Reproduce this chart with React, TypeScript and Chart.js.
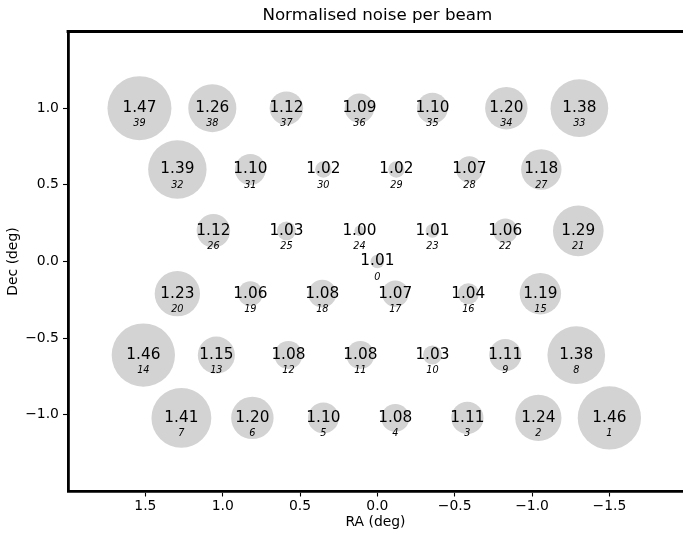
import React, { useEffect, useRef } from "react";
import { Chart, registerables } from "chart.js";

Chart.register(...registerables);

// Beam numbers, positions (deg) and normalised noise
const beams = [
  0, 1, 2, 3, 4, 5, 6, 7, 8, 9, 10, 11, 12, 13, 14, 15, 16, 17, 18, 19,
  20, 21, 22, 23, 24, 25, 26, 27, 28, 29, 30, 31, 32, 33, 34, 35, 36, 37, 38, 39,
];
const ra = [
  0.0,
  -1.5, -1.041, -0.582, -0.116, 0.349, 0.808, 1.267,
  -1.286, -0.827, -0.356, 0.11, 0.575, 1.041, 1.513,
  -1.054, -0.588, -0.116, 0.356, 0.821, 1.293,
  -1.299, -0.827, -0.356, 0.116, 0.588, 1.06,
  -1.06, -0.595, -0.123, 0.349, 0.821, 1.293,
  -1.306, -0.834, -0.356, 0.116, 0.588, 1.067, 1.538,
];
const dec = [
  0.0,
  -1.02, -1.02, -1.02, -1.02, -1.02, -1.02, -1.02,
  -0.61, -0.61, -0.61, -0.61, -0.61, -0.61, -0.61,
  -0.21, -0.21, -0.21, -0.21, -0.21, -0.21,
  0.2, 0.2, 0.2, 0.2, 0.2, 0.2,
  0.6, 0.6, 0.6, 0.6, 0.6, 0.6,
  1.0, 1.0, 1.0, 1.0, 1.0, 1.0, 1.0,
];
const noise = [
  1.01,
  1.46, 1.24, 1.11, 1.08, 1.1, 1.2, 1.41,
  1.38, 1.11, 1.03, 1.08, 1.08, 1.15, 1.46,
  1.19, 1.04, 1.07, 1.08, 1.06, 1.23,
  1.29, 1.06, 1.01, 1.0, 1.03, 1.12,
  1.18, 1.07, 1.02, 1.02, 1.1, 1.39,
  1.38, 1.2, 1.1, 1.09, 1.12, 1.26, 1.47,
];
const xTicks = [1.5, 1.0, 0.5, 0.0, -0.5, -1.0, -1.5];
const yTicks = [-1.0, -0.5, 0.0, 0.5, 1.0];

const TITLE = "Normalised noise per beam";
const X_LABEL = "RA (deg)";
const Y_LABEL = "Dec (deg)";
const FONT = "'DejaVu Sans', sans-serif";

const fmt = (v: number) => (v < 0 ? "\u2212" : "") + Math.abs(v).toFixed(1);

const overlay = {
  id: "overlay",
  afterDatasetsDraw(chart: any) {
    const ctx = chart.ctx;
    const meta = chart.getDatasetMeta(0);
    ctx.save();
    ctx.fillStyle = "#000";
    ctx.textAlign = "center";
    ctx.textBaseline = "middle";
    meta.data.forEach((el: any, i: number) => {
      ctx.font = `15.3px ${FONT}`;
      ctx.fillText(noise[i].toFixed(2), el.x, el.y);
      ctx.font = `italic 9.7px ${FONT}`;
      ctx.fillText(String(beams[i]), el.x, el.y + 15.5);
    });
    ctx.restore();
  },
  afterDraw(chart: any) {
    const { ctx, chartArea } = chart;
    ctx.save();
    ctx.strokeStyle = "#000";
    ctx.lineWidth = 2.8;
    ctx.beginPath();
    ctx.moveTo(chartArea.left - 1.4, chartArea.top);
    ctx.lineTo(chartArea.right, chartArea.top);
    ctx.stroke();
    ctx.fillStyle = "#000";
    ctx.font = `16.7px ${FONT}`;
    ctx.textAlign = "center";
    ctx.textBaseline = "middle";
    ctx.fillText(TITLE, chart.scales.x.getPixelForValue(0), 16);
    ctx.restore();
  },
};

export default function App() {
  const ref = useRef<HTMLCanvasElement | null>(null);
  useEffect(() => {
    if (!ref.current) return;
    const chart = new Chart(ref.current, {
      type: "bubble",
      data: {
        datasets: [
          {
            data: ra.map((x, i) => ({ x, y: dec[i] })),
            backgroundColor: "#d3d3d3",
            borderWidth: 0,
            radius: (c: any) => Math.sqrt(2123 * (noise[c.dataIndex] - 0.988)),
          } as any,
        ],
      },
      options: {
        responsive: false,
        animation: false,
        events: [],
        devicePixelRatio: 1,
        layout: { autoPadding: false, padding: { top: 31.5, left: 0, right: 0, bottom: 0 } },
        plugins: { legend: { display: false }, tooltip: { enabled: false } },
        scales: {
          x: {
            type: "linear",
            reverse: true,
            min: -1.976,
            max: 2.0,
            afterBuildTicks: (s: any) => {
              s.ticks = xTicks.map((v) => ({ value: v }));
            },
            afterFit: (s: any) => {
              s.height = 41.5;
            },
            ticks: {
              callback: (v: any) => fmt(Number(v)),
              font: { family: FONT, size: 13.9 },
              color: "#000",
              padding: 1.8,
              maxRotation: 0,
              autoSkip: false,
            },
            grid: {
              display: true,
              drawOnChartArea: false,
              drawTicks: true,
              tickLength: 5,
              tickWidth: 1.1,
              tickColor: "#000",
              color: "#000",
            },
            border: { display: true, color: "#000", width: 2.8 },
            title: {
              display: true,
              text: X_LABEL,
              color: "#000",
              font: { family: FONT, size: 13.9 },
              padding: { top: 0, bottom: 2.7 },
            },
          },
          y: {
            type: "linear",
            min: -1.5,
            max: 1.5,
            afterBuildTicks: (s: any) => {
              s.ticks = yTicks.map((v) => ({ value: v }));
            },
            afterFit: (s: any) => {
              s.width = 68;
            },
            ticks: {
              callback: (v: any) => fmt(Number(v)),
              font: { family: FONT, size: 13.9 },
              color: "#000",
              padding: 4.1,
              autoSkip: false,
            },
            grid: {
              display: true,
              drawOnChartArea: false,
              drawTicks: true,
              tickLength: 5,
              tickWidth: 1.1,
              tickColor: "#000",
              color: "#000",
            },
            border: { display: true, color: "#000", width: 2.8 },
            title: {
              display: true,
              text: Y_LABEL,
              color: "#000",
              font: { family: FONT, size: 13.9 },
              padding: { top: 4.7, bottom: 0 },
            },
          },
        },
      },
      plugins: [overlay],
    } as any);
    return () => chart.destroy();
  }, []);
  return (
    <div style={{ position: "absolute", left: 0, top: 0, width: 683, height: 533 }}>
      <canvas ref={ref} width={683} height={533} style={{ display: "block" }} />
    </div>
  );
}
